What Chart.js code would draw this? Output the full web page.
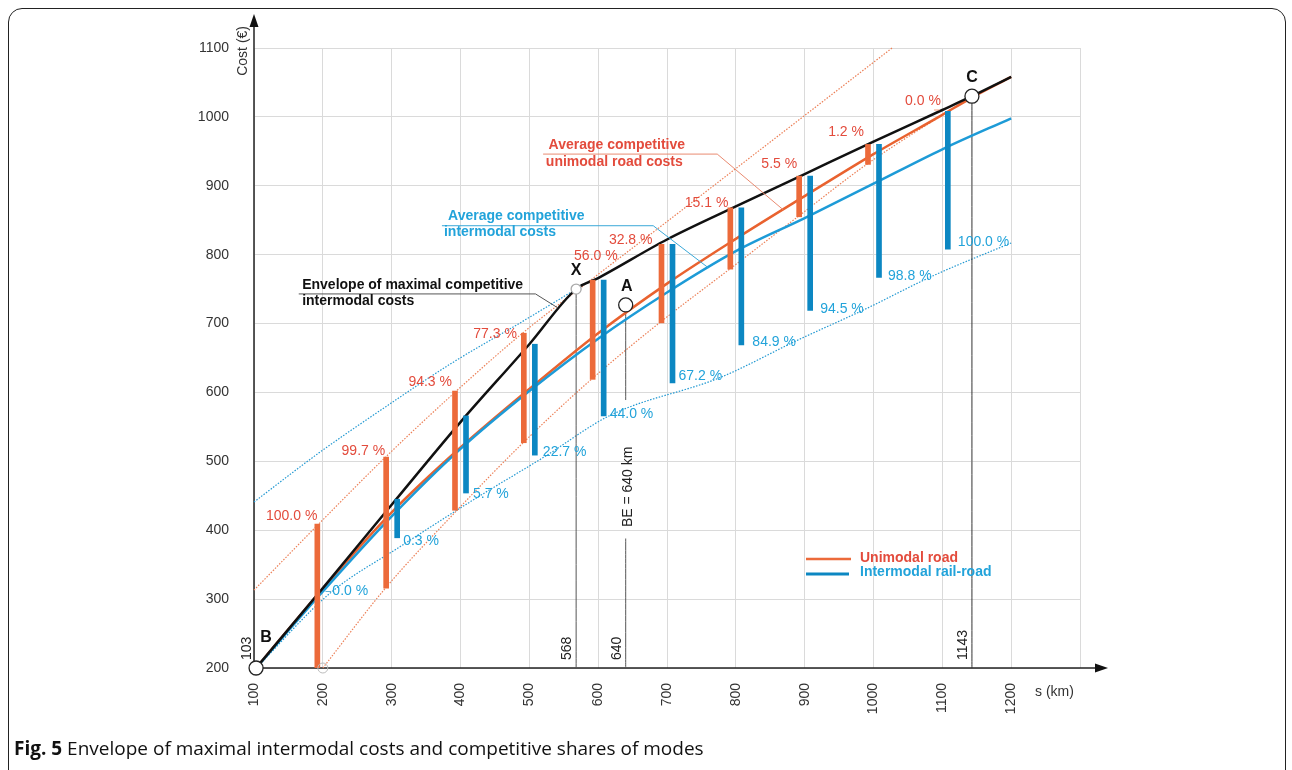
<!DOCTYPE html>
<html>
<head>
<meta charset="utf-8">
<script src="https://cdn.jsdelivr.net/npm/chart.js@4.4.1/dist/chart.umd.min.js"></script>
<style>
  html, body { margin: 0; padding: 0; background: #fff; }
  body { width: 1292px; height: 770px; position: relative; overflow: hidden; }
  #frame {
    position: absolute; left: 8px; top: 8px; width: 1278px; height: 820px;
    border: 1.5px solid #222; border-radius: 14px; box-sizing: border-box;
  }
  #chart { position: absolute; left: 0; top: 0; }
  #caption {
    position: absolute; left: 14px; top: 735px;
    font-family: "Open Sans", sans-serif; font-size: 19px; color: #111;
    white-space: nowrap;
  }
  #caption b { font-weight: 700; }
</style>
</head>
<body>
<div id="frame"></div>
<canvas id="chart" width="1292" height="770"></canvas>
<div id="caption"><b>Fig. 5</b> Envelope of maximal intermodal costs and competitive shares of modes</div>

<script>
// Average competitive unimodal road costs
const roadKm   = [103, 200, 300, 400, 500, 600, 700, 800, 900, 1000, 1100, 1143, 1200];
const roadCost = [200, 315, 426, 520, 605, 686, 758, 823, 885, 946, 1003, 1028, 1058];

// Average competitive intermodal costs
const railKm   = [103, 200, 300, 400, 500, 600, 700, 800, 900, 1000, 1100, 1200];
const railCost = [200, 311, 420, 518, 602, 678, 745, 805, 853, 903, 953, 998];

// Envelope of maximal competitive intermodal costs (B -> X -> C)
const envKm   = [103, 200, 300, 400, 500, 568, 600, 700, 800, 900, 1000, 1100, 1143, 1200];
const envCost = [200, 316, 437, 557, 670, 750, 766, 822, 870, 917, 964, 1010, 1030, 1058];

// dotted bounds
const roadUpKm   = [100, 193, 291, 395, 490, 589, 700, 800, 1027];
const roadUpCost = [313, 408, 506, 603, 686, 763, 848, 925, 1100];
const roadLoKm   = [200, 291, 395, 491, 589, 689, 791, 890, 990, 1143];
const roadLoCost = [200, 316, 429, 527, 618, 701, 779, 855, 931, 1030];
const railUpKm   = [100, 194, 291, 388, 485, 568];
const railUpCost = [441, 512, 579, 643, 700, 750];
const railLoKm   = [103, 211, 312, 425, 521, 618, 778, 890, 986, 1088, 1200];
const railLoCost = [200, 309, 376, 448, 506, 567, 622, 676, 720, 770, 817];

// competitive ranges per distance
const distKm    = [200, 300, 400, 500, 600, 700, 800, 900, 1000, 1100];
const roadLow   = [200, 316, 429, 527, 619, 701, 779, 855, 931, 1010];
const roadHigh  = [409, 506, 602, 686, 763, 815, 868, 914, 960, 1010];
const railLow   = [311, 389, 454, 509, 566, 614, 669, 719, 767, 808];
const railHigh  = [311, 445, 566, 670, 763, 815, 868, 914, 960, 1008];
const roadShare = ['100.0 %', '99.7 %', '94.3 %', '77.3 %', '56.0 %', '32.8 %', '15.1 %', '5.5 %', '1.2 %', '0.0 %'];
const railShare = ['0.0 %', '0.3 %', '5.7 %', '22.7 %', '44.0 %', '67.2 %', '84.9 %', '94.5 %', '98.8 %', '100.0 %'];

// key points
const pointNames = ['B', 'X', 'A', 'C'];
const pointKm    = [103, 568, 640, 1143];
const pointCost  = [200, 750, 727, 1030];
const refKm      = [103, 568, 640, 1143];

const xTicks = [100, 200, 300, 400, 500, 600, 700, 800, 900, 1000, 1100, 1200];

// styling / label placement (pixel nudges)
const ROAD = '#ec6a3a', ROAD_LINE = '#e9622f', ROAD_TXT = '#e34b3c', ROAD_DOT = '#ec8058';
const RAIL = '#0c87c2', RAIL_LINE = '#1d9bd7', RAIL_TXT = '#22a3da', RAIL_DOT = '#2399d2';
const BAR_SHIFT = 8;
const FONT = '"Liberation Sans", Arial, sans-serif';
const roadLabelDx = [0, -1, -3, -7, 25, -9, -2, -2, -4, 4];
const roadLabelDy = [-8, -6, -9, 1, -24, -4, -5, -12, -12, -9];
const railLabelDx = [4, 6, 7, 8, 6, 6, 11, 10, 9, 10];
const railLabelDy = [0, 3, 1, -3, -2, -7, -3, -1, -1, -7];

const pts = (xs, ys) => xs.map((x, i) => ({ x: x, y: ys[i] }));

function lineSet(data, color, width, dash, order) {
    return {
        type: 'line', data: data, borderColor: color, borderWidth: width,
        borderDash: dash || [], pointRadius: 0, fill: false,
        cubicInterpolationMode: 'monotone', order: order, clip: 4
    };
}

const datasets = [
    // dotted bounds
    lineSet(pts(roadUpKm, roadUpCost), ROAD_DOT, 1.2, [1.5, 1.5], 6),
    lineSet(pts(roadLoKm, roadLoCost), ROAD_DOT, 1.2, [1.5, 1.5], 6),
    lineSet(pts(railUpKm, railUpCost), RAIL_DOT, 1.2, [1.5, 1.5], 6),
    lineSet(pts(railLoKm, railLoCost), RAIL_DOT, 1.2, [1.5, 1.5], 6),
    // reference verticals
    lineSet([{ x: refKm[1], y: 200 }, { x: refKm[1], y: pointCost[1] }], '#555', 1, null, 5),
    lineSet([{ x: refKm[2], y: 200 }, { x: refKm[2], y: 388 }], '#555', 1, null, 5),
    lineSet([{ x: refKm[2], y: 589 }, { x: refKm[2], y: 716 }], '#555', 1, null, 5),
    lineSet([{ x: refKm[3], y: 200 }, { x: refKm[3], y: pointCost[3] }], '#333', 1, null, 5),
    // averages and envelope
    lineSet(pts(roadKm, roadCost), ROAD_LINE, 2.5, null, 4),
    lineSet(pts(railKm, railCost), RAIL_LINE, 2.5, null, 3),
    lineSet(pts(envKm, envCost), '#111', 2.5, null, 2),
    // competitive ranges
    {
        type: 'bar', data: distKm.map((d, i) => ({ x: d - BAR_SHIFT, y: [roadLow[i], roadHigh[i]] })),
        backgroundColor: ROAD, barThickness: 5, grouped: false, order: 1
    },
    {
        type: 'bar', data: distKm.map((d, i) => ({ x: d + BAR_SHIFT, y: [railLow[i], railHigh[i]] })),
        backgroundColor: RAIL, barThickness: 5, grouped: false, order: 1
    },
    // key points
    {
        type: 'scatter', data: pts(pointKm, pointCost), pointRadius: [7, 5, 7, 7],
        pointBackgroundColor: '#fff', pointBorderColor: ['#222', '#aaa', '#222', '#222'],
        pointBorderWidth: 1.3, clip: false, order: 0
    },
    {
        type: 'scatter', data: [{ x: 200, y: 200 }], pointRadius: 5,
        pointBackgroundColor: 'rgba(255,255,255,0)', pointBorderColor: '#bbb',
        pointBorderWidth: 1, clip: false, order: 0
    }
];

function txt(ctx, s, x, y, font, color, align, base, rot) {
    ctx.save();
    ctx.font = font;
    ctx.fillStyle = color;
    ctx.textAlign = align || 'left';
    ctx.textBaseline = base || 'middle';
    ctx.translate(x, y);
    if (rot) ctx.rotate(rot);
    ctx.fillText(s, 0, 0);
    ctx.restore();
}

function seg(ctx, pairs, color, w) {
    ctx.save();
    ctx.strokeStyle = color;
    ctx.lineWidth = w;
    ctx.beginPath();
    ctx.moveTo(pairs[0][0], pairs[0][1]);
    for (let i = 1; i < pairs.length; i++) ctx.lineTo(pairs[i][0], pairs[i][1]);
    ctx.stroke();
    ctx.restore();
}

const decor = {
    id: 'decor',
    beforeDatasetsDraw(chart) {
        const ctx = chart.ctx;
        const X = v => chart.scales.x.getPixelForValue(v);
        const Y = v => chart.scales.y.getPixelForValue(v);
        const x0 = X(100), y0 = Y(200);
        // axes with arrows
        seg(ctx, [[x0, y0], [x0, 22]], '#222', 1.5);
        seg(ctx, [[x0, y0], [1100, y0]], '#222', 1.5);
        ctx.save();
        ctx.fillStyle = '#111';
        ctx.beginPath();
        ctx.moveTo(x0, 14); ctx.lineTo(x0 - 4.5, 27); ctx.lineTo(x0 + 4.5, 27); ctx.closePath();
        ctx.fill();
        ctx.beginPath();
        ctx.moveTo(1108, y0); ctx.lineTo(1095, y0 - 4.5); ctx.lineTo(1095, y0 + 4.5); ctx.closePath();
        ctx.fill();
        ctx.restore();
    },
    afterDatasetsDraw(chart) {
        const ctx = chart.ctx;
        const X = v => chart.scales.x.getPixelForValue(v);
        const Y = v => chart.scales.y.getPixelForValue(v);
        const f14 = '14px ' + FONT;
        const b14 = 'bold 14px ' + FONT;

        // axis titles
        txt(ctx, 'Cost (€)', X(100) - 11, 26, '14px ' + FONT, '#333', 'right', 'middle', -Math.PI / 2);
        txt(ctx, 's (km)', 1035, 692, f14, '#333', 'left', 'middle');

        // share labels
        distKm.forEach((d, i) => {
            txt(ctx, roadShare[i], X(d - BAR_SHIFT) + roadLabelDx[i], Y(roadHigh[i]) + roadLabelDy[i],
                f14, ROAD_TXT, 'right', 'middle');
            txt(ctx, railShare[i], X(d + BAR_SHIFT) + railLabelDx[i], Y(railLow[i]) + railLabelDy[i],
                f14, RAIL_TXT, 'left', 'middle');
        });

        // point names
        const off = { B: [10, -30], X: [0, -19], A: [1, -18], C: [0, -19] };
        pointNames.forEach((n, i) => {
            txt(ctx, n, X(pointKm[i]) + off[n][0], Y(pointCost[i]) + off[n][1], 'bold 16px ' + FONT, '#111', 'center', 'middle');
        });

        // rotated distance labels near axis
        refKm.forEach(k => {
            txt(ctx, String(k), X(k) - 9, Y(200) - 8, f14, '#222', 'left', 'middle', -Math.PI / 2);
        });
        txt(ctx, 'BE = 640 km', X(640) + 2, Y(463), f14, '#222', 'center', 'middle', -Math.PI / 2);

        // annotation: envelope
        seg(ctx, [[X(165), Y(743)], [X(509), Y(743)], [X(541), Y(723)]], '#555', 1);
        txt(ctx, 'Envelope of maximal competitive', X(170), Y(756), b14, '#111', 'left', 'middle');
        txt(ctx, 'intermodal costs', X(170), Y(732), b14, '#111', 'left', 'middle');

        // annotation: intermodal average
        seg(ctx, [[X(373), Y(842)], [X(680), Y(842)], [X(760), Y(781)]], '#3aa8d8', 1);
        txt(ctx, 'Average competitive', X(382), Y(856), b14, RAIL_TXT, 'left', 'middle');
        txt(ctx, 'intermodal costs', X(376), Y(833), b14, RAIL_TXT, 'left', 'middle');

        // annotation: road average
        seg(ctx, [[X(520), Y(946)], [X(773), Y(946)], [X(869), Y(865)]], '#e98a70', 1);
        txt(ctx, 'Average competitive', X(528), Y(959), b14, ROAD_TXT, 'left', 'middle');
        txt(ctx, 'unimodal road costs', X(524), Y(934), b14, ROAD_TXT, 'left', 'middle');

        // legend
        seg(ctx, [[806, 559], [851, 559]], ROAD, 2.5);
        seg(ctx, [[806, 574], [849, 574]], RAIL, 3);
        txt(ctx, 'Unimodal road', 860, 558, b14, ROAD_TXT, 'left', 'middle');
        txt(ctx, 'Intermodal rail-road', 860, 572, b14, RAIL_TXT, 'left', 'middle');
    }
};

new Chart(document.getElementById('chart'), {
    type: 'scatter',
    data: { datasets: datasets },
    plugins: [decor],
    options: {
        responsive: false,
        animation: false,
        events: [],
        layout: { padding: { left: 0, right: 212, top: 48, bottom: 0 } },
        plugins: { legend: { display: false }, tooltip: { enabled: false } },
        scales: {
            x: {
                type: 'linear', min: 100, max: 1300, offset: false,
                afterFit: s => { s.height = 102; },
                afterBuildTicks: s => { s.ticks = xTicks.concat([1300]).map(v => ({ value: v })); },
                grid: { color: '#dadada', lineWidth: 1, drawTicks: false, offset: false },
                border: { display: false },
                ticks: {
                    autoSkip: false, maxRotation: 90, minRotation: 90, padding: 15,
                    color: '#333', font: { family: FONT, size: 14 },
                    callback: v => (xTicks.includes(v) ? String(v) : '')
                }
            },
            y: {
                type: 'linear', min: 200, max: 1100,
                afterFit: s => { s.width = 254; },
                grid: { color: '#dadada', lineWidth: 1, drawTicks: false },
                border: { display: false },
                ticks: {
                    stepSize: 100, padding: 25, color: '#333', font: { family: FONT, size: 14 },
                    callback: v => String(v)
                }
            }
        }
    }
});
</script>
</body>
</html>
